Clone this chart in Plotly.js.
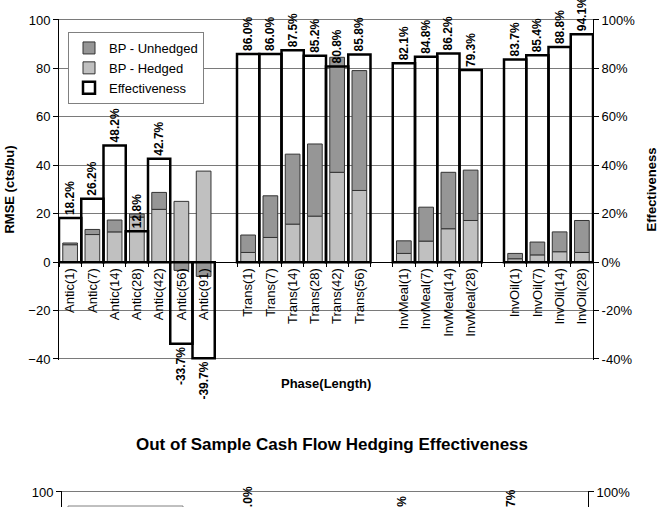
<!DOCTYPE html>
<html>
<head>
<meta charset="utf-8">
<script src="https://cdn.plot.ly/plotly-3.0.1.min.js"></script>
<style>
  html, body { margin: 0; padding: 0; background: #ffffff; overflow: hidden; width: 662px; height: 507px; }
  #frame { width: 662px; height: 507px; overflow: hidden; position: relative; }
  #chart { width: 662px; height: 560px; }
</style>
</head>
<body>
<div id="frame"><div id="chart"></div></div>
<script>
// ---------- data ----------
const categoriesAntic   = ['Antic(1)', 'Antic(7)', 'Antic(14)', 'Antic(28)', 'Antic(42)', 'Antic(56)', 'Antic(91)'];
const categoriesTrans   = ['Trans(1)', 'Trans(7)', 'Trans(14)', 'Trans(28)', 'Trans(42)', 'Trans(56)'];
const categoriesInvMeal = ['InvMeal(1)', 'InvMeal(7)', 'InvMeal(14)', 'InvMeal(28)'];
const categoriesInvOil  = ['InvOil(1)', 'InvOil(7)', 'InvOil(14)', 'InvOil(28)'];

// BP - Hedged (cts/bu)
const bpHedged = [7.2, 11.4, 12.5, 18.6, 21.8, 25.1, 37.6,
                  4.0, 10.2, 15.7, 19.0, 37.1, 29.6,
                  3.6, 8.7, 13.8, 17.2,
                  1.4, 3.0, 4.3, 4.0];
// BP - Unhedged segment, stacked on the hedged bar (cts/bu)
const bpUnhedged = [0.7, 2.1, 4.9, 1.3, 7.0, -3.4, -5.9,
                    7.2, 17.2, 28.9, 29.8, 47.5, 49.5,
                    5.2, 14.0, 23.3, 20.8,
                    2.2, 5.3, 8.2, 13.2];
// Effectiveness (%)
const effectiveness = [18.2, 26.2, 48.2, 12.8, 42.7, -33.7, -39.7,
                       86.0, 86.0, 87.5, 85.2, 80.8, 85.8,
                       82.1, 84.8, 86.2, 79.3,
                       83.7, 85.4, 88.8, 94.1];

// second chart ("Out of Sample"): only the tops of three labels are visible
const oosCategories    = ['Trans(1)', 'InvMeal(1)', 'InvOil(1)'];
const oosEffectiveness = [87.0, 83.0, 85.7];
const oosHedged        = [null, null, null];   // not visible in the picture

// tick labels
const rmseTicks = [-40, -20, 0, 20, 40, 60, 80, 100];
const effTickText = rmseTicks.map(v => v + '%');

// ---------- build ----------
const cats = [].concat(categoriesAntic, categoriesTrans, categoriesInvMeal, categoriesInvOil);
const categoryOrder = [].concat(categoriesAntic, [' '], categoriesTrans, ['  '], categoriesInvMeal, ['   '], categoriesInvOil);

const FONT = 'Liberation Sans, Arial, Helvetica, sans-serif';
const HL = 560;            // layout height (page shows the top 507 px)
const T = 18, L = 59, R = 593;
const plotH = HL - T;
const topPx = 20, zeroPx = 262, bottomPx = 359;
const ppu = (bottomPx - topPx) / 140;   // pixels per unit
const e = 0.5;                           // small range padding so edge gridlines show
const px2paperX = p => (p - L) / (R - L);
const px2paperY = p => (HL - p) / plotH;

const mainDomain = [px2paperY(bottomPx + e * ppu), px2paperY(topPx - e * ppu)];
const mainRange = [-40 - e, 100 + e];
const xAxisPos = px2paperY(zeroPx);

const botTopPx = 492;
const botDomain = [0, px2paperY(botTopPx - e * ppu)];
const botRange = [100 - (HL - botTopPx) / ppu, 100 + e];

const traces = [
  {
    type: 'bar', name: 'BP - Hedged', x: cats, y: bpHedged,
    xaxis: 'x', yaxis: 'y', width: 0.66, legendrank: 2,
    marker: { color: '#c0c0c0', line: { color: '#333333', width: 1 } },
    hoverinfo: 'x+y'
  },
  {
    type: 'bar', name: 'BP - Unhedged', x: cats, y: bpUnhedged,
    xaxis: 'x', yaxis: 'y', width: 0.66, legendrank: 1,
    marker: { color: '#969696', line: { color: '#333333', width: 1 } },
    hoverinfo: 'x+y'
  },
  {
    type: 'bar', name: 'Effectiveness', x: cats, y: effectiveness,
    xaxis: 'x', yaxis: 'y2', width: 1.0, legendrank: 3,
    marker: { color: 'rgba(0,0,0,0)', line: { color: '#000000', width: 2.5 } },
    texttemplate: '%{y:.1f}%', textposition: 'outside', textangle: -90,
    constraintext: 'none', cliponaxis: false,
    outsidetextfont: { family: FONT, size: 12, color: '#000', weight: 'bold' },
    hoverinfo: 'x+y'
  },
  {
    type: 'bar', name: 'BP - Hedged (out of sample)', x: oosCategories, y: oosHedged,
    xaxis: 'x2', yaxis: 'y3', width: 0.66, showlegend: false,
    marker: { color: '#c0c0c0', line: { color: '#333333', width: 1 } },
    hoverinfo: 'x+y'
  },
  {
    type: 'bar', name: 'Effectiveness (out of sample)', x: oosCategories, y: oosEffectiveness,
    xaxis: 'x2', yaxis: 'y4', width: 1.0, showlegend: false,
    marker: { color: 'rgba(0,0,0,0)', line: { color: '#000000', width: 2.5 } },
    texttemplate: '%{y:.1f}%', textposition: 'outside', textangle: -90,
    constraintext: 'none', cliponaxis: false,
    outsidetextfont: { family: FONT, size: 12, color: '#000', weight: 'bold' },
    hoverinfo: 'x+y'
  }
];

const tickFont = { family: FONT, size: 13, color: '#000' };

const layout = {
  width: 662, height: HL,
  margin: { l: L, r: 662 - R, t: T, b: 0, pad: 0 },
  paper_bgcolor: '#ffffff', plot_bgcolor: 'rgba(0,0,0,0)',
  barmode: 'relative',
  font: { family: FONT, size: 13, color: '#000' },
  showlegend: true,
  legend: {
    x: px2paperX(68), y: px2paperY(32), xanchor: 'left', yanchor: 'top',
    bgcolor: '#ffffff', bordercolor: '#808080', borderwidth: 1,
    font: { family: FONT, size: 13, color: '#000' },
    traceorder: 'normal', itemwidth: 30, tracegroupgap: 0
  },
  xaxis: {
    type: 'category', categoryorder: 'array', categoryarray: categoryOrder,
    range: [-0.5, categoryOrder.length - 0.5],
    anchor: 'free', position: xAxisPos,
    showline: true, linecolor: '#000', linewidth: 1,
    ticks: 'outside', tickson: 'boundaries', ticklen: 4, tickcolor: '#000',
    tickangle: -90, tickfont: { family: FONT, size: 13, color: '#000' },
    showgrid: false, zeroline: false, automargin: false, fixedrange: true
  },
  yaxis: {
    domain: mainDomain, range: mainRange, tickmode: 'array', tickvals: rmseTicks,
    showline: true, linecolor: '#000', linewidth: 1,
    ticks: 'outside', ticklen: 5, tickcolor: '#000', tickfont: tickFont,
    showgrid: true, gridcolor: '#7a7a7a', gridwidth: 1, zeroline: false,
    title: { text: 'RMSE (cts/bu)', font: { family: FONT, size: 13, color: '#000', weight: 'bold' }, standoff: 10 },
    automargin: false, fixedrange: true
  },
  yaxis2: {
    overlaying: 'y', side: 'right', anchor: 'x', domain: mainDomain,
    range: mainRange, tickmode: 'array', tickvals: rmseTicks, ticktext: effTickText,
    showline: true, linecolor: '#000', linewidth: 1,
    ticks: 'outside', ticklen: 5, tickcolor: '#000', tickfont: tickFont,
    showgrid: false, zeroline: false,
    title: { text: 'Effectiveness', font: { family: FONT, size: 13, color: '#000', weight: 'bold' }, standoff: 12 },
    automargin: false, fixedrange: true
  },
  xaxis2: {
    type: 'category', categoryorder: 'array', categoryarray: categoryOrder,
    range: [-0.5, categoryOrder.length - 0.5],
    domain: [px2paperX(62), px2paperX(588)], anchor: 'y3',
    showline: false, showticklabels: false, ticks: '', showgrid: false, zeroline: false,
    fixedrange: true
  },
  yaxis3: {
    domain: botDomain, range: botRange, tickmode: 'array', tickvals: [100], ticktext: ['100'], anchor: 'x2',
    showline: true, linecolor: '#000', linewidth: 1,
    ticks: 'outside', ticklen: 5, tickcolor: '#000', tickfont: tickFont,
    showgrid: true, gridcolor: '#7a7a7a', zeroline: false,
    automargin: false, fixedrange: true
  },
  yaxis4: {
    overlaying: 'y3', side: 'right', anchor: 'x2', domain: botDomain,
    range: botRange, tickmode: 'array', tickvals: [100], ticktext: ['100%'],
    showline: true, linecolor: '#000', linewidth: 1,
    ticks: 'outside', ticklen: 5, tickcolor: '#000', tickfont: tickFont,
    showgrid: false, zeroline: false, automargin: false, fixedrange: true
  },
  annotations: [
    {
      text: 'Phase(Length)', xref: 'paper', yref: 'paper',
      x: px2paperX(326), y: px2paperY(383), xanchor: 'center', yanchor: 'middle',
      showarrow: false, font: { family: FONT, size: 13, color: '#000', weight: 'bold' }
    },
    {
      text: 'Out of Sample Cash Flow Hedging Effectiveness', xref: 'paper', yref: 'paper',
      x: px2paperX(332), y: px2paperY(444), xanchor: 'center', yanchor: 'middle',
      showarrow: false, font: { family: FONT, size: 17, color: '#000', weight: 'bold' }
    }
  ],
  shapes: [
    {
      type: 'rect', xref: 'paper', yref: 'paper', layer: 'above',
      x0: px2paperX(68), x1: px2paperX(183), y0: px2paperY(506), y1: px2paperY(600),
      line: { color: '#808080', width: 1 }, fillcolor: '#ffffff'
    }
  ]
};

Plotly.newPlot('chart', traces, layout, { displayModeBar: false, staticPlot: true });
</script>
</body>
</html>
